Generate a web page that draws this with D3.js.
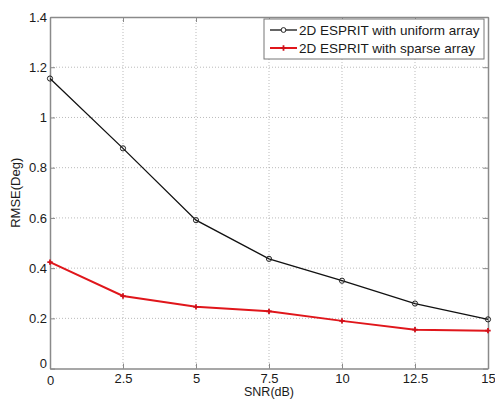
<!DOCTYPE html>
<html>
<head>
<meta charset="utf-8">
<script src="https://cdn.jsdelivr.net/npm/d3@7"></script>
<style>
body { margin: 0; background: #fff; }
text { font-family: "Liberation Sans", Arial, sans-serif; }
</style>
</head>
<body>
<div id="chart"></div>
<script>
// data
const snr = [0, 2.5, 5, 7.5, 10, 12.5, 15];
const uniformRmse = [1.155, 0.877, 0.591, 0.437, 0.350, 0.259, 0.196];
const sparseRmse = [0.424, 0.289, 0.246, 0.228, 0.190, 0.155, 0.151];
const xTicks = [0, 2.5, 5, 7.5, 10, 12.5, 15];
const yTicks = [0, 0.2, 0.4, 0.6, 0.8, 1, 1.2, 1.4];
const seriesNames = ["2D ESPRIT with uniform array", "2D ESPRIT with sparse array"];

const W = 495, H = 402;
const pLeft = 50, pRight = 488, pTop = 17, pBottom = 368.6;

const svg = d3.select('#chart').append('svg').attr('width', W).attr('height', H);

const x = d3.scaleLinear().domain([0, 15]).range([pLeft, pRight]);
const y = d3.scaleLinear().domain([0, 1.4]).range([pBottom, pTop]);

// grid
svg.append('g').selectAll('line').data(xTicks.slice(1, -1)).join('line')
    .attr('x1', d => x(d)).attr('x2', d => x(d))
    .attr('y1', pTop).attr('y2', pBottom)
    .style('stroke', '#aaa').style('stroke-width', 0.8).style('stroke-dasharray', '1,2');
svg.append('g').selectAll('line').data(yTicks.slice(1, -1)).join('line')
    .attr('x1', pLeft).attr('x2', pRight)
    .attr('y1', d => y(d)).attr('y2', d => y(d))
    .style('stroke', '#aaa').style('stroke-width', 0.8).style('stroke-dasharray', '1,2');

// axes (matlab style, ticks inside)
const axColor = '#8a8a8a';
const xAxis = svg.append('g').attr('transform', `translate(0,${pBottom})`)
    .call(d3.axisBottom(x).tickValues(xTicks).tickSizeInner(-5).tickSizeOuter(0).tickPadding(5).tickFormat(d3.format('')));
const yAxis = svg.append('g').attr('transform', `translate(${pLeft},0)`)
    .call(d3.axisLeft(y).tickValues(yTicks).tickSizeInner(-5).tickSizeOuter(0).tickPadding(3).tickFormat(d3.format('')));
const xTop = svg.append('g').attr('transform', `translate(0,${pTop})`)
    .call(d3.axisTop(x).tickValues(xTicks).tickSizeInner(-5).tickSizeOuter(0).tickFormat(''));
const yRight = svg.append('g').attr('transform', `translate(${pRight},0)`)
    .call(d3.axisRight(y).tickValues(yTicks).tickSizeInner(-5).tickSizeOuter(0).tickFormat(''));

[xAxis, yAxis, xTop, yRight].forEach(g => {
    g.select('.domain').style('stroke', axColor).style('stroke-width', 1.5);
    g.selectAll('.tick line').style('stroke', axColor);
    g.selectAll('text').style('font-size', '13px').style('fill', '#1a1a1a')
        .style('font-family', '"Liberation Sans", Arial, sans-serif');
});
yAxis.selectAll('.tick text').filter(d => d === 0).attr('dy', '-0.1em');
xAxis.selectAll('.tick text').filter(d => d === 0).attr('dy', '0.85em');

// labels
svg.append('text').attr('x', (pLeft + pRight) / 2).attr('y', 396)
    .attr('text-anchor', 'middle').style('font-size', '12.5px').style('fill', '#1a1a1a').text('SNR(dB)');
svg.append('text').attr('transform', `translate(20,${(pTop + pBottom) / 2}) rotate(-90)`)
    .attr('text-anchor', 'middle').style('font-size', '13px').style('fill', '#1a1a1a').text('RMSE(Deg)');

// lines
const line = d3.line().x(d => x(d[0])).y(d => y(d[1]));
const uniform = snr.map((s, i) => [s, uniformRmse[i]]);
const sparse = snr.map((s, i) => [s, sparseRmse[i]]);

svg.append('path').datum(uniform).attr('d', line)
    .style('fill', 'none').style('stroke', '#111').style('stroke-width', 1.3);
svg.append('g').selectAll('circle').data(uniform).join('circle')
    .attr('cx', d => x(d[0])).attr('cy', d => y(d[1])).attr('r', 2.6)
    .style('fill', 'none').style('stroke', '#222').style('stroke-width', 1);

svg.append('path').datum(sparse).attr('d', line)
    .style('fill', 'none').style('stroke', '#e0161b').style('stroke-width', 2);
svg.append('g').selectAll('path').data(sparse).join('path')
    .attr('d', d3.symbol(d3.symbolCross, 16))
    .attr('transform', d => `translate(${x(d[0])},${y(d[1])})`)
    .style('fill', '#d0101a');

// legend
const lg = svg.append('g');
lg.append('rect').attr('x', 264).attr('y', 19).attr('width', 220).attr('height', 40)
    .style('fill', '#fff').style('stroke', '#777').style('stroke-width', 1);
const legendY = [30, 48];
seriesNames.forEach((name, i) => {
    const col = i === 0 ? '#111' : '#e0161b';
    lg.append('line').attr('x1', 270).attr('x2', 297).attr('y1', legendY[i]).attr('y2', legendY[i])
        .style('stroke', col).style('stroke-width', i === 0 ? 1.3 : 2);
    if (i === 0) {
        lg.append('circle').attr('cx', 283.5).attr('cy', legendY[i]).attr('r', 2.4)
            .style('fill', '#fff').style('stroke', '#222');
    } else {
        lg.append('path').attr('d', d3.symbol(d3.symbolCross, 16))
            .attr('transform', `translate(283.5,${legendY[i]})`).style('fill', '#d0101a');
    }
    lg.append('text').attr('x', 299).attr('y', legendY[i] + 5)
        .style('font-size', '13.5px').style('fill', '#1a1a1a').text(name);
});
</script>
</body>
</html>
